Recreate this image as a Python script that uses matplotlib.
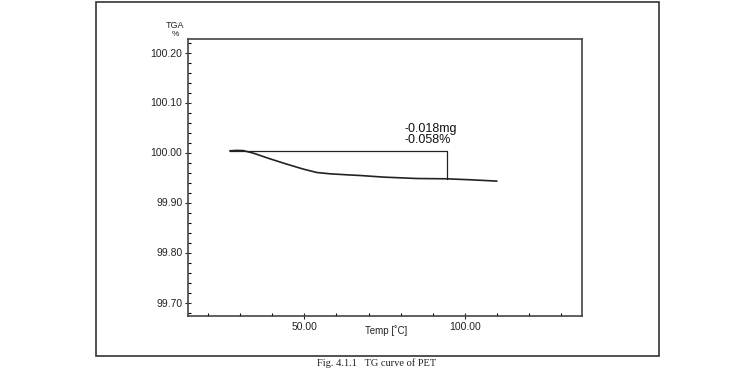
import matplotlib
matplotlib.use("Agg")
import matplotlib.pyplot as plt
from matplotlib.patches import Rectangle
from matplotlib.ticker import MultipleLocator, FormatStrFormatter

temp = [26.9, 29.0, 31.0, 34.1, 39.3, 44.5, 49.7, 53.9, 58.0, 63.2, 67.4, 74.6, 85.0,
        94.3, 101.5, 109.9]
tga = [100.0034, 100.0042, 100.0038, 99.9988, 99.9874, 99.9768, 99.9668, 99.9600, 99.9574,
       99.9554, 99.9540, 99.9508, 99.9480, 99.9474, 99.9455, 99.9428]
step_start_T = 26.9
step_end_T = 94.5
step_top = 100.004
step_bottom = 99.9474
annot_lines = ["-0.018mg", "-0.058%"]
caption = "Fig. 4.1.1   TG curve of PET"

W, H = 756, 379
fig = plt.figure(figsize=(W / 100, H / 100), dpi=100)
plt.rcParams['font.family'] = ['Liberation Sans', 'DejaVu Sans']

# outer frame
fig.patches.append(Rectangle((96 / W, 1 - 356 / H), (659 - 96) / W, (356 - 2) / H,
                             transform=fig.transFigure, fill=False, lw=1.2,
                             edgecolor='#333333'))

ax = fig.add_axes([188 / W, 1 - 316 / H, (581.5 - 188) / W, (316 - 39) / H])
ax.plot(temp, tga, color='#222222', lw=1.2)
ax.plot([step_start_T, step_end_T, step_end_T], [step_top, step_top, step_bottom],
        color='#222222', lw=0.9)
ax.set_xlim(13.8, 136.3)
ax.set_ylim(99.673, 100.227)
ax.xaxis.set_major_locator(MultipleLocator(50))
ax.xaxis.set_minor_locator(MultipleLocator(10))
ax.yaxis.set_major_locator(MultipleLocator(0.1))
ax.yaxis.set_minor_locator(MultipleLocator(0.02))
ax.xaxis.set_major_formatter(FormatStrFormatter('%.2f'))
ax.yaxis.set_major_formatter(FormatStrFormatter('%.2f'))
ax.tick_params(which='major', direction='inout', length=4, width=0.8, labelsize=7.5,
               colors='#222222', pad=2)
ax.tick_params(which='minor', direction='in', length=2, width=0.8)
for s in ax.spines.values():
    s.set_color('#444444')
    s.set_linewidth(1.2)

fig.text(175 / W, 1 - 25 / H, "TGA", ha='center', va='center', fontsize=6.5, color='#222222')
fig.text(175 / W, 1 - 34.5 / H, "%", ha='center', va='center', fontsize=6, color='#222222')
fig.text(386 / W, 1 - 331 / H, "Temp [\u02daC]", ha='center', va='center', fontsize=7,
         color='#222222')
ax.text(81.3, 100.042, annot_lines[0], ha='left', va='baseline',
        fontsize=9, color='#111111')
ax.text(81.3, 100.0194, annot_lines[1], ha='left', va='baseline',
        fontsize=9, color='#111111')
fig.text(377 / W, 1 - 363 / H, caption, ha='center', va='center', fontsize=7.5,
         family=['Liberation Serif', 'DejaVu Serif'], color='#222222')

fig.savefig("out.png", dpi=100)
